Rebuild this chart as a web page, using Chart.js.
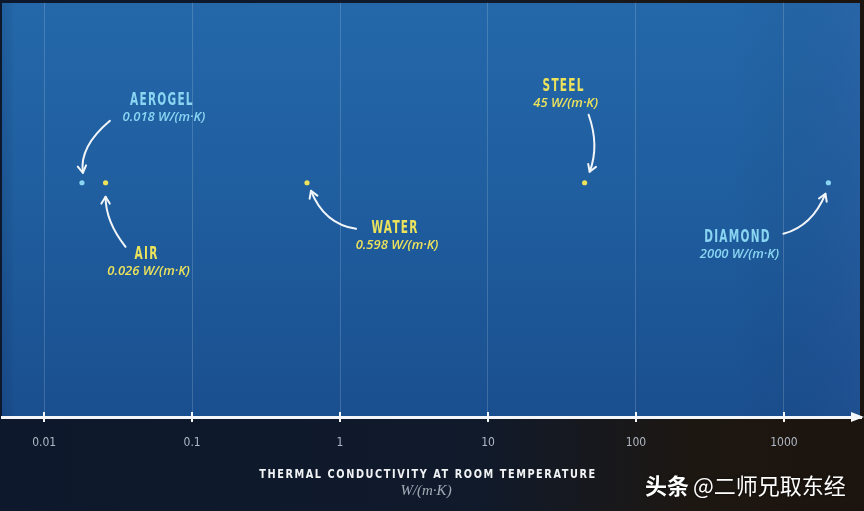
<!DOCTYPE html>
<html>
<head>
<meta charset="utf-8">
<script src="https://cdn.jsdelivr.net/npm/chart.js@4"></script>
<style>
  html, body { margin: 0; padding: 0; background: #0d1626; }
  canvas { display: block; }
</style>
</head>
<body>
<canvas id="chart" width="864" height="511"></canvas>
<script>
const materials = ["AEROGEL", "AIR", "WATER", "STEEL", "DIAMOND"];
const conductivity = [0.018, 0.026, 0.598, 45, 2000];
const valueLabels = ["0.018 W/(m·K)", "0.026 W/(m·K)", "0.598 W/(m·K)", "45 W/(m·K)", "2000 W/(m·K)"];
const tickValues = [0.01, 0.1, 1, 10, 100, 1000];
const tickLabels = ["0.01", "0.1", "1", "10", "100", "1000"];
const axisTitle = "THERMAL CONDUCTIVITY AT ROOM TEMPERATURE";
const axisUnit = "W/(m·K)";
const watermark = ["头条", "@二师兄取东经"];

// styling / placement (pixel offsets from each point)
const CYAN = "#8ad6f2";
const YELLOW = "#ece25c";
const markColors = [CYAN, YELLOW, YELLOW, YELLOW, CYAN];
const labelOffsets = [[80, -82], [41, 72], [88, 46], [-21, -96], [-91, 55]];
// arrow: start, control, end (relative to the point)
const arrowPaths = [
  [[28, -62], [-3, -36], [1, -10]],
  [[20, 64], [0, 39], [0, 14]],
  [[49, 46], [17, 41], [4, 8]],
  [[4, -68], [15, -37], [5, -11]],
  [[-45, 51], [-16, 43], [-3, 11]]
];

const LOG_MIN = Math.pow(10, -2.281);
const LOG_MAX = Math.pow(10, 3.524);

function drawArrow(ctx, s, c, e) {
  ctx.beginPath();
  ctx.moveTo(s[0], s[1]);
  ctx.quadraticCurveTo(c[0], c[1], e[0], e[1]);
  ctx.stroke();
  const ang = Math.atan2(e[1] - c[1], e[0] - c[0]);
  const len = 8;
  ctx.beginPath();
  ctx.moveTo(e[0] - len * Math.cos(ang - 0.55), e[1] - len * Math.sin(ang - 0.55));
  ctx.lineTo(e[0], e[1]);
  ctx.lineTo(e[0] - len * Math.cos(ang + 0.55), e[1] - len * Math.sin(ang + 0.55));
  ctx.stroke();
}

// draws centred text squeezed horizontally, like the condensed poster font
function condensed(ctx, text, x, y, sx) {
  ctx.save();
  ctx.translate(x, y);
  ctx.scale(sx, 1);
  ctx.fillText(text, 0, 0);
  ctx.restore();
}

const decor = {
  id: "decor",
  beforeDraw(chart) {
    const ctx = chart.ctx;
    const W = chart.width, H = chart.height;
    const bottom = chart.chartArea.bottom;
    ctx.save();
    let g = ctx.createLinearGradient(0, 0, W, 0);
    g.addColorStop(0, "#0d182c");
    g.addColorStop(0.55, "#101a2b");
    g.addColorStop(0.8, "#1d1712");
    g.addColorStop(1, "#1c140e");
    ctx.fillStyle = g;
    ctx.fillRect(0, 0, W, H);
    g = ctx.createLinearGradient(0, 3, 0, bottom);
    g.addColorStop(0, "#2468aa");
    g.addColorStop(0.5, "#1f5d9e");
    g.addColorStop(1, "#1a4f8f");
    ctx.fillStyle = g;
    ctx.fillRect(2, 3, 858, bottom - 3);
    g = ctx.createLinearGradient(2, 0, 860, 0);
    g.addColorStop(0, "rgba(10,30,70,0.14)");
    g.addColorStop(0.015, "rgba(0,0,0,0)");
    g.addColorStop(0.85, "rgba(0,0,0,0)");
    g.addColorStop(1, "rgba(70,80,150,0.12)");
    ctx.fillStyle = g;
    ctx.fillRect(2, 3, 858, bottom - 3);
    ctx.restore();
  },
  afterDatasetsDraw(chart) {
    const ctx = chart.ctx;
    const xs = chart.scales.x, ys = chart.scales.y;
    const bottom = chart.chartArea.bottom;
    ctx.save();

    // axis arrowhead and tick marks
    ctx.fillStyle = "#f4f6f8";
    ctx.beginPath();
    ctx.moveTo(864, bottom);
    ctx.lineTo(851, bottom - 5);
    ctx.lineTo(851, bottom + 5);
    ctx.closePath();
    ctx.fill();
    ctx.strokeStyle = "#f4f6f8";
    ctx.lineWidth = 2;
    tickValues.forEach((v) => {
      const x = Math.round(xs.getPixelForValue(v));
      ctx.beginPath();
      ctx.moveTo(x, bottom - 5);
      ctx.lineTo(x, bottom + 5);
      ctx.stroke();
    });

    // arrows and labels
    const py = ys.getPixelForValue(0);
    ctx.lineWidth = 2;
    ctx.lineCap = "round";
    ctx.lineJoin = "round";
    ctx.strokeStyle = "#f2f5f8";
    conductivity.forEach((v, i) => {
      const px = xs.getPixelForValue(v);
      const p = arrowPaths[i].map((o) => [px + o[0], py + o[1]]);
      drawArrow(ctx, p[0], p[1], p[2]);

      const lx = px + labelOffsets[i][0], ly = py + labelOffsets[i][1];
      ctx.fillStyle = markColors[i];
      ctx.textAlign = "center";
      ctx.textBaseline = "middle";
      ctx.font = "bold 17px 'DejaVu Sans', sans-serif";
      ctx.letterSpacing = "2px";
      condensed(ctx, materials[i], lx, ly, 0.62);
      ctx.letterSpacing = "0px";
      ctx.font = "italic 600 13px 'Open Sans', sans-serif";
      ctx.fillText(valueLabels[i], lx + 2, ly + 17);
    });

    // axis title
    ctx.fillStyle = "#f0f2f4";
    ctx.textAlign = "center";
    ctx.font = "bold 12.5px 'DejaVu Sans', sans-serif";
    ctx.letterSpacing = "2px";
    condensed(ctx, axisTitle, 428, 475, 0.78);
    ctx.letterSpacing = "0px";
    ctx.fillStyle = "#a3abb6";
    ctx.font = "italic 15px 'Liberation Serif', serif";
    ctx.fillText(axisUnit, 426, 491);

    // watermark
    ctx.textAlign = "left";
    ctx.fillStyle = "#ffffff";
    ctx.shadowColor = "rgba(0,0,0,0.6)";
    ctx.shadowBlur = 3;
    ctx.font = "bold 22px 'Noto Sans CJK SC', sans-serif";
    ctx.fillText(watermark[0], 645, 486);
    const w0 = ctx.measureText(watermark[0]).width;
    ctx.font = "22px 'Noto Sans CJK SC', sans-serif";
    ctx.fillText(watermark[1], 645 + w0 + 4, 486);
    ctx.restore();
  }
};

new Chart(document.getElementById("chart"), {
  type: "scatter",
  data: {
    datasets: [{
      data: conductivity.map((v) => ({ x: v, y: 0 })),
      pointRadius: 2.6,
      pointHoverRadius: 2.6,
      pointBorderWidth: 0,
      pointBackgroundColor: markColors
    }]
  },
  options: {
    responsive: false,
    animation: false,
    layout: { padding: 0 },
    plugins: { legend: { display: false }, tooltip: { enabled: false } },
    scales: {
      x: {
        type: "logarithmic",
        min: LOG_MIN,
        max: LOG_MAX,
        offset: false,
        afterBuildTicks: (scale) => { scale.ticks = tickValues.map((v) => ({ value: v })); },
        afterFit: (scale) => { scale.height = 94; },
        grid: { color: "rgba(255,255,255,0.16)", lineWidth: 1, drawTicks: false },
        border: { color: "#f4f6f8", width: 3 },
        ticks: {
          autoSkip: false,
          maxRotation: 0,
          padding: 19,
          color: "#b0b8c5",
          font: { family: "'DejaVu Sans Condensed', 'Liberation Sans Narrow', sans-serif", size: 12 },
          callback: (v) => { const i = tickValues.indexOf(v); return i >= 0 ? tickLabels[i] : ""; }
        }
      },
      y: { display: false, min: -1.3, max: 1 }
    }
  },
  plugins: [decor]
});
</script>
</body>
</html>
